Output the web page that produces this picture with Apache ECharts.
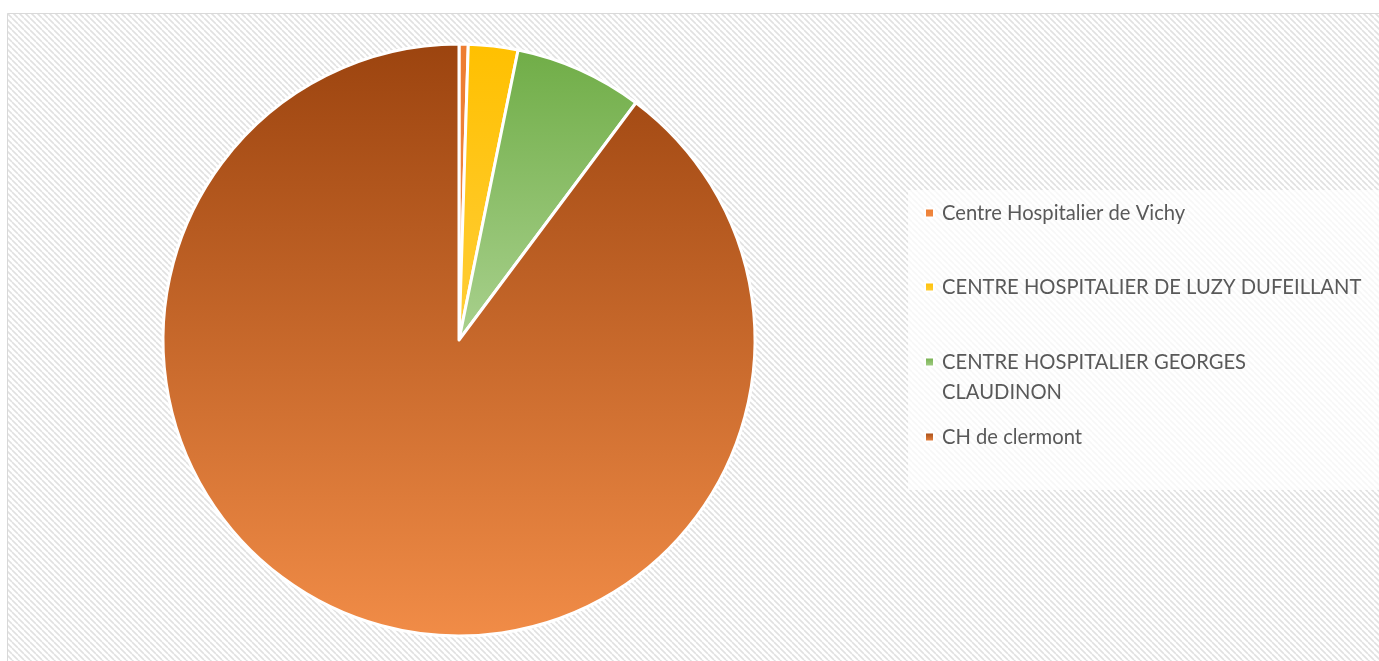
<!DOCTYPE html>
<html>
<head>
<meta charset="utf-8">
<style>
html,body{margin:0;padding:0;background:#fff;}
#chart{width:1379px;height:661px;}
</style>
<script src="https://cdn.jsdelivr.net/npm/echarts@6/dist/echarts.min.js"></script>
</head>
<body>
<div id="chart"></div>
<script>
const categories = [
  'Centre Hospitalier de Vichy',
  'CENTRE HOSPITALIER DE LUZY DUFEILLANT',
  'CENTRE HOSPITALIER GEORGES CLAUDINON',
  'CH de clermont'
];
const values = [0.5, 2.7, 7.0, 89.8];
const colorTops = ['#ED7D31', '#FFC000', '#70AD47', '#9C440F'];
const colorBottoms = ['#F08A45', '#FFCE3A', '#A9D18E', '#F18C47'];

function makeHatch() {
  const c = document.createElement('canvas');
  const s = 6;
  c.width = s; c.height = s;
  const ctx = c.getContext('2d');
  ctx.fillStyle = '#ffffff';
  ctx.fillRect(0, 0, s, s);
  ctx.strokeStyle = '#e1e1e1';
  ctx.lineWidth = 1.6;
  ctx.beginPath();
  for (let k = -1; k <= 1; k++) {
    ctx.moveTo(k * s, 0);
    ctx.lineTo(k * s + s, s);
  }
  ctx.stroke();
  return c;
}

function grad(i) {
  return new echarts.graphic.LinearGradient(0, 0, 0, 1, [
    { offset: 0, color: colorTops[i] },
    { offset: 1, color: colorBottoms[i] }
  ]);
}

const legendTops = [198, 272, 317, 422];
const legends = categories.map((name, i) => ({
  data: [name],
  orient: 'vertical',
  left: 924,
  top: legendTops[i],
  padding: 0,
  icon: 'rect',
  itemWidth: 9,
  itemHeight: 9,
  selectedMode: false,
  formatter: n => n === 'CENTRE HOSPITALIER GEORGES CLAUDINON'
    ? '\nCENTRE HOSPITALIER GEORGES\nCLAUDINON' : n,
  textStyle: {
    fontFamily: 'Lato, "Open Sans", sans-serif',
    fontSize: 20.2,
    lineHeight: 30,
    color: '#595959',
    padding: [0, 0, 0, 3]
  }
}));

const chart = echarts.init(document.getElementById('chart'), null, { renderer: 'canvas' });
chart.setOption({
  animation: false,
  backgroundColor: '#ffffff',
  graphic: [
    {
      type: 'rect', z: -10, silent: true,
      shape: { x: 7.5, y: 13.5, width: 1400, height: 700 },
      style: { fill: { image: makeHatch(), repeat: 'repeat' }, stroke: '#d9d9d9', lineWidth: 1 }
    },
    {
      type: 'rect', z: -5, silent: true,
      shape: { x: 908, y: 190, width: 480, height: 300 },
      style: { fill: 'rgba(255,255,255,0.72)' }
    }
  ],
  legend: legends,
  series: [{
    type: 'pie',
    center: [459, 340],
    radius: [0, 296],
    startAngle: 90,
    clockwise: true,
    label: { show: false },
    labelLine: { show: false },
    emphasis: { disabled: true },
    itemStyle: { borderColor: '#ffffff', borderWidth: 3 },
    data: categories.map((name, i) => ({
      name: name,
      value: values[i],
      itemStyle: { color: grad(i) }
    }))
  }]
});
</script>
</body>
</html>
